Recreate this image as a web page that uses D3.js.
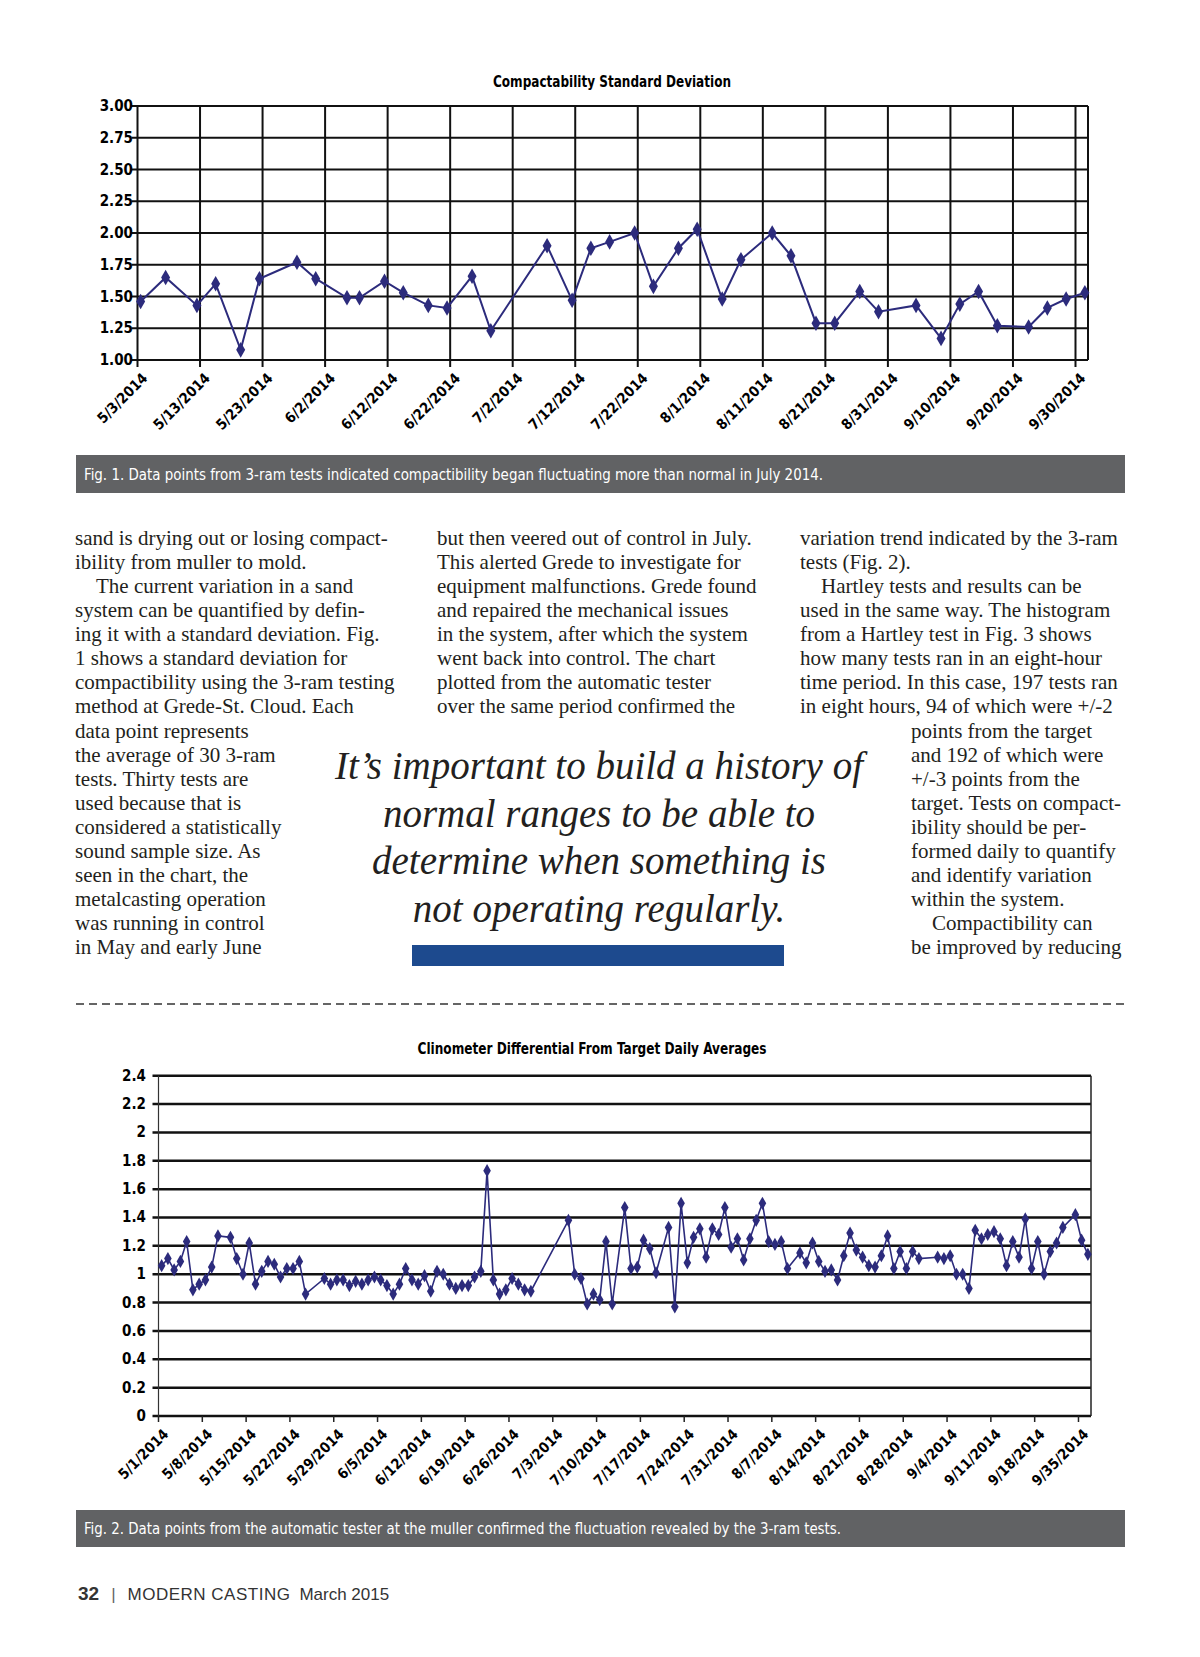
<!DOCTYPE html>
<meta charset="utf-8">
<style>
body { margin: 0; background: #fff; }
.cond { font-family: "Liberation Sans Narrow", "DejaVu Sans", sans-serif; font-stretch: condensed; }
.bold { font-weight: bold; }
.grid line { stroke: #111; stroke-width: 2px; }
.body { font-family: "Liberation Serif", "DejaVu Serif", serif; font-size: 21px; fill: #231f20; }
.quote { font-family: "Liberation Serif", "DejaVu Serif", serif; font-style: italic; font-size: 39px; fill: #231f20; text-anchor: middle; }
</style>
<svg width="1200" height="1657"></svg>
<script src="https://d3js.org/d3.v7.min.js"></script>
<script>

// Fig. 1 - compactability standard deviation
var compactDates = ["5/3","5/7","5/12","5/15","5/19","5/22","5/28","5/31","6/5","6/7",
  "6/11","6/14","6/18","6/21","6/25","6/28","7/7","7/11","7/14","7/17",
  "7/21","7/24","7/28","7/31","8/4","8/7","8/12","8/15","8/19","8/22",
  "8/26","8/29","9/4","9/8","9/11","9/14","9/17","9/22","9/25","9/28","10/1"];
var compactValues = [1.46,1.65,1.43,1.60,1.08,1.64,1.77,1.64,1.49,1.49,
  1.62,1.53,1.43,1.41,1.66,1.23,1.90,1.47,1.88,1.93,
  2.00,1.58,1.88,2.03,1.48,1.79,2.00,1.82,1.29,1.29,
  1.54,1.38,1.43,1.17,1.44,1.54,1.27,1.26,1.41,1.48,1.53];
var compactTicks = ["5/3/2014","5/13/2014","5/23/2014","6/2/2014","6/12/2014","6/22/2014",
  "7/2/2014","7/12/2014","7/22/2014","8/1/2014","8/11/2014","8/21/2014",
  "8/31/2014","9/10/2014","9/20/2014","9/30/2014"];
var compactYTicks = [1.00,1.25,1.50,1.75,2.00,2.25,2.50,2.75,3.00];

// Fig. 2 - clinometer differential, days counted from 5/1/2014
var clinoDays = [0,1,2,3,4,5,6,7,8,9,11,12,13,14,15,16,17,18,19,20,21,22,23,
  26,27,28,29,30,31,32,33,34,35,36,37,38,39,40,41,42,43,44,45,46,47,48,49,50,
  51,52,53,54,55,56,57,58,59,65,66,67,68,69,70,71,72,74,75,76,77,78,79,81,82,
  83,84,85,86,87,88,89,90,91,92,93,94,95,96,97,98,99,100,102,103,104,105,106,
  107,108,109,110,111,112,113,114,115,116,117,118,119,120,121,124,125,126,127,
  128,129,130,131,132,133,134,135,136,137,138,139,140,141,142,143,144,146,147,148];
var clinoValues = [1.06,1.11,1.03,1.09,1.23,0.89,0.93,0.96,1.05,1.27,1.26,1.11,1.00,1.22,0.93,1.02,1.09,1.07,0.98,1.04,1.04,1.09,0.86,
  0.97,0.93,0.96,0.96,0.92,0.95,0.93,0.96,0.98,0.96,0.92,0.86,0.93,1.04,0.96,0.93,0.99,0.88,1.02,1.00,0.93,0.90,0.92,0.92,0.98,
  1.02,1.73,0.96,0.86,0.89,0.97,0.93,0.89,0.88,1.38,1.00,0.97,0.79,0.86,0.82,1.23,0.79,1.47,1.04,1.05,1.24,1.18,1.01,1.33,0.77,
  1.50,1.08,1.26,1.32,1.12,1.32,1.28,1.47,1.19,1.25,1.10,1.25,1.38,1.50,1.23,1.21,1.23,1.04,1.15,1.08,1.22,1.09,1.02,
  1.03,0.96,1.13,1.29,1.17,1.12,1.06,1.05,1.13,1.27,1.04,1.16,1.04,1.16,1.11,1.12,1.11,1.13,1.00,
  1.00,0.90,1.31,1.25,1.28,1.30,1.25,1.06,1.23,1.12,1.39,1.04,1.23,1.00,1.16,1.22,1.33,1.42,1.24,1.14];
var clinoTicks = ["5/1/2014","5/8/2014","5/15/2014","5/22/2014","5/29/2014","6/5/2014",
  "6/12/2014","6/19/2014","6/26/2014","7/3/2014","7/10/2014","7/17/2014","7/24/2014",
  "7/31/2014","8/7/2014","8/14/2014","8/21/2014","8/28/2014","9/4/2014","9/11/2014",
  "9/18/2014","9/35/2014"];
var clinoYTicks = [0,0.2,0.4,0.6,0.8,1,1.2,1.4,1.6,1.8,2,2.2,2.4];

var navy = "#2c2b7c";
var svg = d3.select("svg");
var parse = d3.timeParse("%m/%d/%Y");
var diamond = d3.symbol().type(d3.symbolDiamond);

// ---------- Fig. 1 ----------
var x1 = d3.scaleTime()
    .domain([parse("5/3/2014"), parse("10/2/2014")])
    .range([137.5, 1088]);
var y1 = d3.scaleLinear().domain([1, 3]).range([360, 106]);

var g1 = svg.append("g");

g1.append("text").attr("class", "cond bold")
    .attr("x", 612).attr("y", 87).attr("text-anchor", "middle")
    .attr("textLength", 238).attr("lengthAdjust", "spacingAndGlyphs")
    .style("font-size", "16px").text("Compactability Standard Deviation");

var grid1 = g1.append("g").attr("class", "grid");
grid1.selectAll(".h").data(compactYTicks).enter().append("line")
    .attr("x1", x1.range()[0] - 6).attr("x2", x1.range()[1])
    .attr("y1", function(d) { return y1(d); }).attr("y2", function(d) { return y1(d); });
grid1.selectAll(".v").data(compactTicks).enter().append("line")
    .attr("x1", function(d) { return x1(parse(d)); }).attr("x2", function(d) { return x1(parse(d)); })
    .attr("y1", y1(3)).attr("y2", y1(1) + 7);
grid1.append("line")
    .attr("x1", x1.range()[1]).attr("x2", x1.range()[1])
    .attr("y1", y1(3)).attr("y2", y1(1));

g1.selectAll(".ylab").data(compactYTicks).enter().append("text")
    .attr("class", "cond bold")
    .attr("x", 133).attr("y", function(d) { return y1(d) + 5; })
    .attr("text-anchor", "end").style("font-size", "15px")
    .text(function(d) { return d3.format(".2f")(d); });

g1.selectAll(".xlab").data(compactTicks).enter().append("text")
    .attr("class", "cond bold")
    .attr("text-anchor", "end").style("font-size", "14.5px")
    .attr("transform", function(d) { return "translate(" + (x1(parse(d)) + 11) + "," + (y1(1) + 19) + ") rotate(-45)"; })
    .text(function(d) { return d; });

var pts1 = compactDates.map(function(d, i) {
  return { x: x1(d3.timeHour.offset(parse(d + "/2014"), 12)), y: y1(compactValues[i]) };
});
g1.append("path").datum(pts1)
    .attr("fill", "none").attr("stroke", navy).attr("stroke-width", 2)
    .attr("d", d3.line().x(function(d) { return d.x; }).y(function(d) { return d.y; }));
g1.selectAll(".pt").data(pts1).enter().append("path")
    .attr("fill", navy)
    .attr("transform", function(d) { return "translate(" + d.x + "," + d.y + ")"; })
    .attr("d", diamond.size(70));

// caption 1
svg.append("rect").attr("x", 76).attr("y", 455).attr("width", 1049).attr("height", 38).attr("fill", "#616264");
svg.append("text").attr("class", "cond").attr("x", 84).attr("y", 480)
    .attr("textLength", 739).attr("lengthAdjust", "spacingAndGlyphs")
    .style("font-size", "16px").attr("fill", "#fff")
    .text("Fig. 1. Data points from 3-ram tests indicated compactibility began fluctuating more than normal in July 2014.");

// ---------- body text ----------
var col1 = ["sand is drying out or losing compact-", "ibility from muller to mold.",
  "\u2003The current variation in a sand", "system can be quantified by defin-",
  "ing it with a standard deviation. Fig.", "1 shows a standard deviation for",
  "compactibility using the 3-ram testing", "method at Grede-St. Cloud. Each",
  "data point represents", "the average of 30 3-ram", "tests. Thirty tests are",
  "used because that is", "considered a statistically", "sound sample size. As",
  "seen in the chart, the", "metalcasting operation", "was running in control",
  "in May and early June"];
var col2 = ["but then veered out of control in July.", "This alerted Grede to investigate for",
  "equipment malfunctions. Grede found", "and repaired the mechanical issues",
  "in the system, after which the system", "went back into control. The chart",
  "plotted from the automatic tester", "over the same period confirmed the"];
var col3 = ["variation trend indicated by the 3-ram", "tests (Fig. 2).",
  "\u2003Hartley tests and results can be", "used in the same way. The histogram",
  "from a Hartley test in Fig. 3 shows", "how many tests ran in an eight-hour",
  "time period. In this case, 197 tests ran", "in eight hours, 94 of which were +/-2",
  "points from the target", "and 192 of which were", "+/-3 points from the",
  "target. Tests on compact-", "ibility should be per-", "formed daily to quantify",
  "and identify variation", "within the system.", "\u2003Compactibility can",
  "be improved by reducing"];

function column(lines, x, xWrap, wrapFrom) {
  svg.append("g").selectAll("text").data(lines).enter().append("text")
      .attr("class", "body").attr("xml:space", "preserve")
      .attr("x", function(d, i) { return i >= wrapFrom ? xWrap : x; })
      .attr("y", function(d, i) { return 545 + i * 24.07; })
      .text(function(d) { return d; });
}
column(col1, 75, 75, 99);
column(col2, 437, 437, 99);
column(col3, 800, 911, 8);

var quote = ["It\u2019s important to build a history of", "normal ranges to be able to",
  "determine when something is", "not operating regularly."];
svg.append("g").selectAll("text").data(quote).enter().append("text")
    .attr("class", "quote").attr("x", 599)
    .attr("y", function(d, i) { return 779 + i * 47.6; })
    .text(function(d) { return d; });
svg.append("rect").attr("x", 412).attr("y", 945).attr("width", 372).attr("height", 21).attr("fill", "#1d4a8e");

svg.append("line").attr("x1", 76).attr("x2", 1125).attr("y1", 1004).attr("y2", 1004)
    .attr("stroke", "#333").attr("stroke-width", 1.6).attr("stroke-dasharray", "8,5");

// ---------- Fig. 2 ----------
var x2 = d3.scaleLinear().domain([0, 149]).range([158.5, 1091]);
var y2 = d3.scaleLinear().domain([0, 2.4]).range([1416, 1075.7]);
var g2 = svg.append("g");

g2.append("text").attr("class", "cond bold")
    .attr("x", 592).attr("y", 1054).attr("text-anchor", "middle")
    .attr("textLength", 349).attr("lengthAdjust", "spacingAndGlyphs")
    .style("font-size", "16px").text("Clinometer Differential From Target Daily Averages");

var grid2 = g2.append("g").attr("class", "grid");
grid2.selectAll(".h").data(clinoYTicks).enter().append("line")
    .attr("x1", x2.range()[0] - 6).attr("x2", x2.range()[1])
    .attr("y1", function(d) { return y2(d); }).attr("y2", function(d) { return y2(d); })
    .style("stroke-width", 2.5);
g2.append("line").attr("x1", x2.range()[0]).attr("x2", x2.range()[0])
    .attr("y1", y2(2.4)).attr("y2", y2(0)).attr("stroke", "#333").attr("stroke-width", 1.2);
g2.append("line").attr("x1", x2.range()[1]).attr("x2", x2.range()[1])
    .attr("y1", y2(2.4)).attr("y2", y2(0)).attr("stroke", "#222").attr("stroke-width", 1.5);
g2.selectAll(".xt").data(clinoTicks).enter().append("line")
    .attr("x1", function(d, i) { return x2(i * 7); }).attr("x2", function(d, i) { return x2(i * 7); })
    .attr("y1", y2(0)).attr("y2", y2(0) + 6).attr("stroke", "#222").attr("stroke-width", 1.5);

g2.selectAll(".ylab").data(clinoYTicks).enter().append("text")
    .attr("class", "cond bold")
    .attr("x", 146).attr("y", function(d) { return y2(d) + 5; })
    .attr("text-anchor", "end").style("font-size", "15px")
    .text(function(d) { return d3.format("")(d); });

g2.selectAll(".xlab").data(clinoTicks).enter().append("text")
    .attr("class", "cond bold")
    .attr("text-anchor", "end").style("font-size", "14.5px")
    .attr("transform", function(d, i) { return "translate(" + (x2(i * 7) + 11) + "," + (y2(0) + 19) + ") rotate(-45)"; })
    .text(function(d) { return d; });

var pts2 = clinoDays.map(function(d, i) { return { x: x2(d + 0.5), y: y2(clinoValues[i]) }; });
g2.append("path").datum(pts2)
    .attr("fill", "none").attr("stroke", navy).attr("stroke-width", 1.6)
    .attr("d", d3.line().x(function(d) { return d.x; }).y(function(d) { return d.y; }));
g2.selectAll(".pt").data(pts2).enter().append("path")
    .attr("fill", navy)
    .attr("transform", function(d) { return "translate(" + d.x + "," + d.y + ")"; })
    .attr("d", diamond.size(50));

// caption 2
svg.append("rect").attr("x", 76).attr("y", 1510).attr("width", 1049).attr("height", 37).attr("fill", "#616264");
svg.append("text").attr("class", "cond").attr("x", 84).attr("y", 1534)
    .attr("textLength", 757).attr("lengthAdjust", "spacingAndGlyphs")
    .style("font-size", "16px").attr("fill", "#fff")
    .text("Fig. 2. Data points from the automatic tester at the muller confirmed the fluctuation revealed by the 3-ram tests.");

// footer
var foot = svg.append("text").attr("x", 78).attr("y", 1600)
    .style("font-family", "'Liberation Sans', 'DejaVu Sans', sans-serif").style("font-size", "17px").attr("fill", "#333");
foot.append("tspan").style("font-weight", "bold").style("font-size", "19px").text("32");
foot.append("tspan").attr("dx", 12).attr("fill", "#666").text("|");
foot.append("tspan").attr("dx", 12).style("letter-spacing", "0.5px").style("font-weight", "300").text("MODERN CASTING");
foot.append("tspan").attr("dx", 9).text("March 2015");

</script>
